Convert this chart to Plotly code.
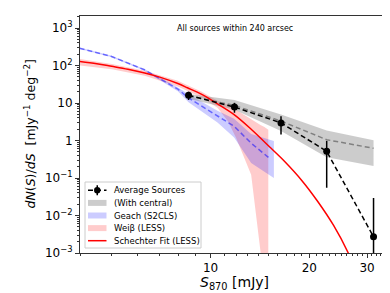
import numpy as np
import plotly.graph_objects as go

# ---------------- data ----------------
S_avg = [8.57, 11.83, 16.4, 22.6, 31.4]
avg_counts = [16.0, 7.8, 2.95, 0.515, 0.0027]
avg_err = [4.0, 2.3, 1.5, 0.46, 0.0266]

central_counts = [15.5, 8.6, 3.3, 1.05, 0.62]
central_hi = [17.5, 12.0, 4.9, 1.85, 1.02]
central_lo = [13.0, 6.6, 1.8, 0.36, 0.21]

S_geach = [3.99, 4.97, 6.29, 7.95, 8.57, 10.5, 11.8, 13.3, 15.1]
geach_counts = [288, 176, 77, 23.6, 13.6, 4.5, 2.4, 0.85, 0.34]
S_geach_band = [3.99, 4.97, 6.29, 7.95, 8.57, 10.5, 11.8, 13.3, 15.6]
geach_hi = [300, 184, 81, 26, 17.0, 6.2, 3.8, 1.5, 0.97]
geach_lo = [276, 168, 73, 20.5, 10.5, 3.0, 1.2, 0.25, 0.10]

S_weiss = [3.99, 5.0, 6.3, 7.95, 9.4, 10.5, 11.3, 11.97, 13.3, 14.2, 14.6, 15.0]
weiss_hi = [150, 110, 73, 39, 20, 11.5, 9.0, 6.5, 3.6, 2.6, 2.3, 1.94]
weiss_lo = [101, 80, 53, 27.5, 14, 7.5, 3.25, 1.17, 0.122, 0.0011, 1e-5, 1e-5]

S_sch = [3.99, 4.5, 5.0, 5.6, 6.3, 7.0, 7.95, 8.5, 9.4, 10.5, 11.8, 13.3,
         15.3, 16.8, 19.0, 21.2, 23.7, 26.3, 27.5]
sch_counts = [129, 112, 95, 79, 63, 49, 33, 25.5, 17, 9.5, 4.9, 2.0,
              0.62, 0.28, 0.085, 0.024, 0.0055, 0.001, 0.0004]

x_ticks = [10, 20, 30]
y_ticks = [1e-3, 1e-2, 1e-1, 1, 10, 100, 1000]
y_ticktext = ["10<sup>\u22123</sup>", "10<sup>\u22122</sup>", "10<sup>\u22121</sup>",
              "1", "10", "10<sup>2</sup>", "10<sup>3</sup>"]

legend_labels = ["Average Sources", "(With central)", "Geach (S2CLS)",
                 "Wei\u03b2 (LESS)", "Schechter Fit (LESS)"]

FONT = "DejaVu Sans"
GRAY_FILL = "rgba(128,128,128,0.4)"
BLUE_FILL = "rgba(0,0,255,0.2)"
PINK_FILL = "rgba(255,0,0,0.2)"
DASH = "5px,3px"

fig = go.Figure()

# bands
fig.add_trace(go.Scatter(
    x=S_weiss + S_weiss[::-1], y=weiss_hi + weiss_lo[::-1],
    fill="toself", fillcolor=PINK_FILL, line=dict(width=0),
    mode="lines", name=legend_labels[3], hoverinfo="skip"))
fig.add_trace(go.Scatter(
    x=S_geach_band + S_geach_band[::-1], y=geach_hi + geach_lo[::-1],
    fill="toself", fillcolor=BLUE_FILL, line=dict(width=0),
    mode="lines", name=legend_labels[2], hoverinfo="skip"))
fig.add_trace(go.Scatter(
    x=S_avg + S_avg[::-1], y=central_hi + central_lo[::-1],
    fill="toself", fillcolor=GRAY_FILL, line=dict(width=0),
    mode="lines", name=legend_labels[1], hoverinfo="skip"))

# lines
fig.add_trace(go.Scatter(
    x=S_avg, y=central_counts, mode="lines",
    line=dict(color="#808080", width=1.5, dash=DASH)))
fig.add_trace(go.Scatter(
    x=S_geach, y=geach_counts, mode="lines",
    line=dict(color="rgba(0,0,255,0.5)", width=1.5, dash=DASH)))
fig.add_trace(go.Scatter(
    x=S_sch, y=sch_counts, mode="lines", line_shape="spline",
    line=dict(color="red", width=1.5), name=legend_labels[4]))
fig.add_trace(go.Scatter(
    x=S_avg, y=avg_counts, mode="lines+markers",
    line=dict(color="black", width=1.5, dash=DASH),
    marker=dict(color="black", size=7, symbol="circle"),
    error_y=dict(type="data", array=avg_err, color="black", thickness=1.5, width=0),
    name=legend_labels[0]))

minor_x = [v for v in range(4, 36) if v not in x_ticks]
minor_y = [k * 10.0 ** e for e in range(-3, 4) for k in range(2, 10)]

# ---------------- hand-drawn legend (matplotlib-like compact spacing) -------------
PW, PH = 309.0, 237.0        # plot area size in px
def px(xp):                   # px offset from plot left -> paper
    return xp / PW
def py(yp):                   # px offset from plot bottom -> paper
    return yp / PH

box_x0, box_x1 = px(5), px(121)
box_y0, box_y1 = py(5), py(71)
row_y = [py(62.7), py(50.1), py(37.5), py(24.9), py(12.3)]
sym_x0, sym_x1 = px(8), px(26.5)
sym_xc = (sym_x0 + sym_x1) / 2
text_x = px(32)

shapes = [dict(type="rect", xref="paper", yref="paper", x0=box_x0, x1=box_x1,
               y0=box_y0, y1=box_y1, fillcolor="rgba(255,255,255,0.8)",
               line=dict(color="#cccccc", width=1), layer="above")]
shapes.append(dict(type="line", xref="paper", yref="paper", x0=sym_x0, x1=sym_x1,
                   y0=row_y[0], y1=row_y[0], line=dict(color="black", width=1.5, dash=DASH)))
shapes.append(dict(type="line", xref="paper", yref="paper", x0=sym_xc, x1=sym_xc,
                   y0=row_y[0] - py(5), y1=row_y[0] + py(5), line=dict(color="black", width=1.5)))
shapes.append(dict(type="circle", xref="paper", yref="paper",
                   x0=sym_xc - px(3.2), x1=sym_xc + px(3.2),
                   y0=row_y[0] - py(3.2), y1=row_y[0] + py(3.2),
                   fillcolor="black", line=dict(color="black", width=0)))
for i, col in zip([1, 2, 3], [GRAY_FILL, BLUE_FILL, PINK_FILL]):
    shapes.append(dict(type="rect", xref="paper", yref="paper", x0=sym_x0, x1=sym_x1,
                       y0=row_y[i] - py(3), y1=row_y[i] + py(3),
                       fillcolor=col, line=dict(width=0)))
shapes.append(dict(type="line", xref="paper", yref="paper", x0=sym_x0, x1=sym_x1,
                   y0=row_y[4], y1=row_y[4], line=dict(color="red", width=1.5)))

annotations = [
    dict(text=lab, x=text_x, y=yy, xref="paper", yref="paper", showarrow=False,
         xanchor="left", yanchor="middle", font=dict(size=8.5, family=FONT, color="black"))
    for lab, yy in zip(legend_labels, row_y)
]
annotations += [
    dict(text="All sources within 240 arcsec", x=0.5, y=0.949, xref="paper",
         yref="paper", showarrow=False, font=dict(size=8, family=FONT),
         xanchor="center", yanchor="middle"),
    dict(text="<i>S</i><sub>870</sub> [mJy]", x=0.5, y=-0.125, xref="paper",
         yref="paper", showarrow=False, font=dict(size=14, family=FONT),
         xanchor="center", yanchor="middle"),
    dict(text="<i>dN</i>(<i>S</i>)/<i>dS</i>  [mJy<sup>\u22121</sup> deg<sup>\u22122</sup>]",
         x=-0.165, y=0.5, xref="paper", yref="paper", showarrow=False,
         textangle=-90, font=dict(size=12.5, family=FONT),
         xanchor="center", yanchor="middle"),
]

fig.update_layout(
    width=390, height=293,
    margin=dict(l=72, r=9, t=8, b=48),
    paper_bgcolor="white", plot_bgcolor="white",
    font=dict(family=FONT, color="black"),
    showlegend=False,
    xaxis=dict(type="log", range=[np.log10(4), np.log10(35)],
               tickmode="array", tickvals=x_ticks, ticktext=[str(v) for v in x_ticks],
               ticks="outside", ticklen=4, tickwidth=1, tickcolor="#333",
               tickfont=dict(size=12, family=FONT),
               showgrid=False, zeroline=False, showline=True, linecolor="#333",
               linewidth=1, mirror=True,
               minor=dict(tickmode="array", tickvals=minor_x, ticks="outside",
                          ticklen=2, tickcolor="#333", showgrid=False)),
    yaxis=dict(type="log", range=[-3, 3.32],
               tickmode="array", tickvals=y_ticks, ticktext=y_ticktext,
               ticks="outside", ticklen=4, tickwidth=1, tickcolor="#333",
               tickfont=dict(size=12, family=FONT),
               showgrid=False, zeroline=False, showline=True, linecolor="#333",
               linewidth=1, mirror=True,
               minor=dict(tickmode="array", tickvals=minor_y, ticks="outside",
                          ticklen=2, tickcolor="#333", showgrid=False)),
    shapes=shapes,
    annotations=annotations,
)

fig.write_html("out.html")
